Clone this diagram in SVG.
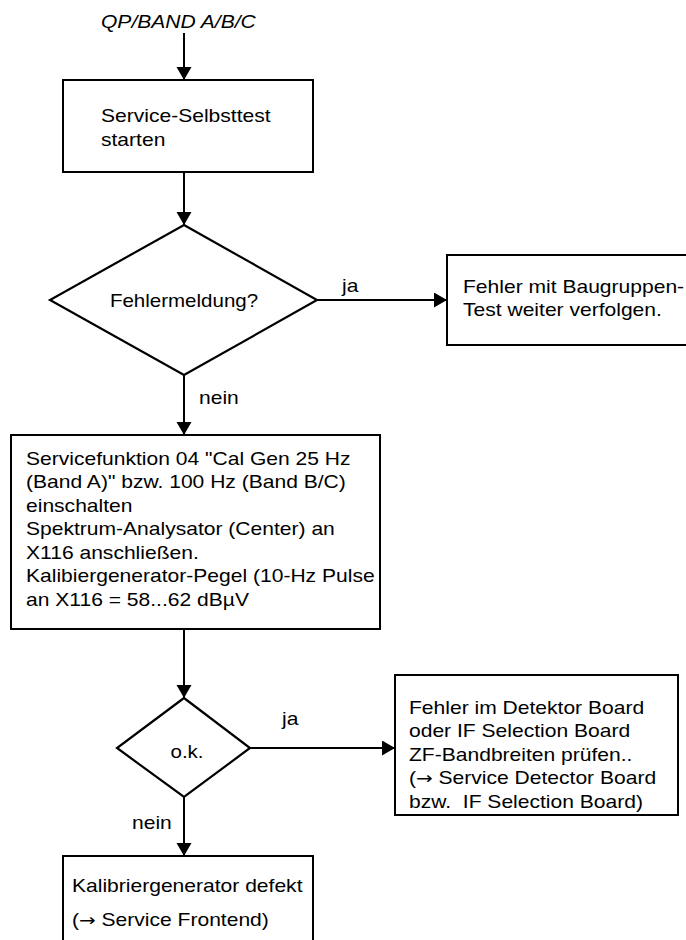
<svg xmlns="http://www.w3.org/2000/svg" width="686" height="940" viewBox="0 0 686 940">
<style>
.box{fill:#fff;stroke:#000;stroke-width:2}
.dia{fill:#fff;stroke:#000;stroke-width:2.2;stroke-linejoin:miter}
.con{fill:none;stroke:#000;stroke-width:2}
.t{font-family:"Liberation Sans",Arial,Helvetica,sans-serif;font-size:18px;fill:#000}
.i{font-style:italic}
.m{text-anchor:middle}
.ar{font-family:"DejaVu Sans",sans-serif;font-size:17px}
</style>
<defs>
<marker id="ah" markerUnits="userSpaceOnUse" markerWidth="14" markerHeight="16" refX="13" refY="7.5" orient="auto">
<path d="M0,0 L13,7.5 L0,15 z" fill="#000"/>
</marker>
</defs>
<rect width="686" height="940" fill="#fff"/>
<g id="connectors">
<line class="con" x1="184" y1="33" x2="184" y2="80" marker-end="url(#ah)"/>
<line class="con" x1="184" y1="172" x2="184" y2="225" marker-end="url(#ah)"/>
<line class="con" x1="317" y1="300" x2="447" y2="300" marker-end="url(#ah)"/>
<line class="con" x1="184" y1="375" x2="184" y2="435" marker-end="url(#ah)"/>
<line class="con" x1="184" y1="629" x2="184" y2="698" marker-end="url(#ah)"/>
<line class="con" x1="250" y1="748" x2="395" y2="748" marker-end="url(#ah)"/>
<line class="con" x1="184" y1="797" x2="184" y2="856" marker-end="url(#ah)"/>
<text class="t" transform="translate(342,292) scale(1.17,1)">ja</text>
<text class="t" transform="translate(199,404) scale(1.17,1)">nein</text>
<text class="t" transform="translate(282,725) scale(1.17,1)">ja</text>
<text class="t" transform="translate(132,829) scale(1.17,1)">nein</text>
</g>
<g id="start">
<text class="t i" transform="translate(101,28) scale(1.17,1)">QP/BAND A/B/C</text>
</g>
<g id="selbsttest">
<rect class="box" x="63" y="80" width="250" height="92"/>
<text class="t" transform="translate(101,122) scale(1.17,1)"><tspan x="0" y="0">Service-Selbsttest</tspan><tspan x="0" y="24">starten</tspan></text>
</g>
<g id="fehlermeldung">
<polygon class="dia" points="184,225 317,300 184,375 50,300"/>
<text class="t m" transform="translate(184,307) scale(1.14,1)">Fehlermeldung?</text>
</g>
<g id="baugruppentest">
<rect class="box" x="447" y="255" width="245" height="90"/>
<text class="t" transform="translate(463,293) scale(1.17,1)"><tspan x="0" y="0">Fehler mit Baugruppen-</tspan><tspan x="0" y="23">Test weiter verfolgen.</tspan></text>
</g>
<g id="servicefunktion">
<rect class="box" x="11" y="435" width="369" height="194"/>
<text class="t" transform="translate(26,465) scale(1.17,1)"><tspan x="0" y="0">Servicefunktion 04 "Cal Gen 25 Hz</tspan><tspan x="0" y="23.5">(Band A)" bzw. 100 Hz (Band B/C)</tspan><tspan x="0" y="47">einschalten</tspan><tspan x="0" y="70.5">Spektrum-Analysator (Center) an</tspan><tspan x="0" y="94">X116 anschließen.</tspan><tspan x="0" y="117.5">Kalibiergenerator-Pegel (10-Hz Pulse</tspan><tspan x="0" y="141">an X116 = 58...62 dBµV</tspan></text>
</g>
<g id="ok">
<polygon class="dia" points="184,698 250,748 184,797 117,748"/>
<text class="t m" transform="translate(187,758) scale(1.14,1)">o.k.</text>
</g>
<g id="detektor">
<rect class="box" x="395" y="675" width="283" height="140"/>
<text class="t" transform="translate(409,714) scale(1.17,1)"><tspan x="0" y="0">Fehler im Detektor Board</tspan><tspan x="0" y="23.5">oder IF Selection Board</tspan><tspan x="0" y="47">ZF-Bandbreiten prüfen..</tspan><tspan x="0" y="70.5">(<tspan class="ar">→</tspan> Service Detector Board</tspan><tspan x="0" y="94">bzw.&#160; IF Selection Board)</tspan></text>
</g>
<g id="kalibriergenerator">
<rect class="box" x="63" y="856" width="250" height="100"/>
<text class="t" transform="translate(72,892) scale(1.17,1)"><tspan x="0" y="0">Kalibriergenerator defekt</tspan><tspan x="0" y="34">(<tspan class="ar">→</tspan> Service Frontend)</tspan></text>
</g>
</svg>
